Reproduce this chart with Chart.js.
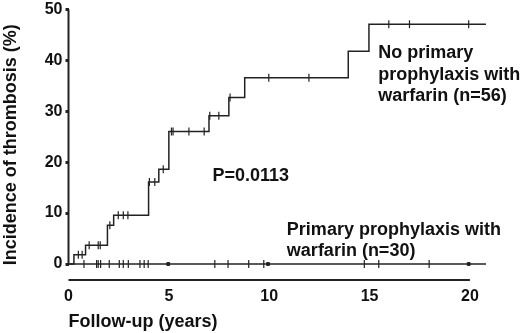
<!DOCTYPE html>
<html>
<head>
  <meta charset="UTF-8">
  <title>Incidence of thrombosis</title>
  <script src="https://cdn.jsdelivr.net/npm/chart.js"></script>
  <style>
    body { margin: 0; background: #fff; }
    #wrap { width: 520px; height: 333px; position: relative; }
  </style>
</head>
<body>
  <div id="wrap"><canvas id="grafica"></canvas></div>

  <script>
// step curve, no primary prophylaxis (n=56)
const noProphTimes = [0, 0.27, 0.85, 1.94, 2.25, 3.99, 4.5, 5.0, 7.0, 7.99, 8.78, 13.94, 14.97, 20.8];
const noProphPct   = [0, 1.8, 3.7, 7.6, 9.6, 16.1, 18.6, 26.0, 29.1, 32.7, 36.6, 41.8, 47.1, 47.1];
// censored patients on that curve
const noProphCensorT   = [0.49, 0.68, 1.03, 1.48, 1.58, 2.06, 2.48, 2.73, 2.96, 4.03, 4.3, 4.72, 5.13, 5.21, 6.0, 6.76, 7.04, 7.49, 8.05, 9.98, 11.98, 15.96, 16.99, 19.94];
const noProphCensorPct = [1.8, 1.8, 3.7, 3.7, 3.7, 7.6, 9.6, 9.6, 9.6, 16.1, 16.1, 18.6, 26, 26, 26, 26, 29.1, 29.1, 32.7, 36.6, 36.6, 47.1, 47.1, 47.1];

// primary prophylaxis with warfarin (n=30)
const prophTimes = [0, 20.8];
const prophPct   = [0, 0];
const prophCensorT = [0.77, 1.40, 1.48, 1.60, 2.03, 2.53, 2.73, 2.98, 3.56, 3.77, 3.97, 7.29, 7.95, 8.98, 9.73, 14.74, 15.46, 17.97];
const prophMarkT = [4.97, 9.94, 19.94];

const yTicks = [0, 10, 20, 30, 40, 50];
const xTicks = [0, 5, 10, 15, 20];

const FONT = "'Liberation Sans', Arial, sans-serif";
const INK = '#222';

function pts(xs, ys) {
  return xs.map((x, i) => ({ x: x, y: ys[i] }));
}

// axis lines + text labels
const extras = {
  id: 'extras',
  afterDraw(chart) {
    const c = chart.ctx, xs = chart.scales.x, ys = chart.scales.y;
    const a = chart.chartArea;
    c.save();
    c.strokeStyle = INK;
    c.lineWidth = 2;
    c.beginPath();
    c.moveTo(a.left, ys.getPixelForValue(50));
    c.lineTo(a.left, ys.getPixelForValue(0) + 1);
    c.stroke();
    c.beginPath();
    c.moveTo(xs.getPixelForValue(0), a.bottom);
    c.lineTo(xs.getPixelForValue(20), a.bottom);
    c.stroke();

    c.fillStyle = '#111';
    c.font = 'bold 18px ' + FONT;
    c.textBaseline = 'middle';
    c.textAlign = 'left';
    const put = (txt, x, y) => c.fillText(txt, xs.getPixelForValue(x), ys.getPixelForValue(y));
    put('No primary', 15.43, 41.5);
    put('prophylaxis with', 15.43, 37.2);
    put('warfarin (n=56)', 15.43, 32.9);
    put('P=0.0113', 7.17, 17.2);
    put('Primary prophylaxis with', 10.88, 6.7);
    put('warfarin (n=30)', 10.88, 2.6);
    c.restore();
  }
};

const ctx = document.getElementById('grafica').getContext('2d');
const chart = new Chart(ctx, {
  type: 'line',
  data: {
    datasets: [
      {
        data: pts(noProphTimes, noProphPct),
        stepped: true,
        borderColor: INK,
        borderWidth: 1.5,
        pointRadius: 0
      },
      {
        data: pts(noProphCensorT, noProphCensorPct),
        showLine: false,
        pointStyle: 'line',
        rotation: 90,
        pointRadius: 4,
        borderColor: INK,
        borderWidth: 1.2
      },
      {
        data: pts(prophTimes, prophPct),
        borderColor: INK,
        borderWidth: 1.5,
        pointRadius: 0
      },
      {
        data: prophCensorT.map(t => ({ x: t, y: 0 })),
        showLine: false,
        pointStyle: 'line',
        rotation: 90,
        pointRadius: 4,
        borderColor: INK,
        borderWidth: 1.2
      },
      {
        data: prophMarkT.map(t => ({ x: t, y: 0 })),
        showLine: false,
        pointStyle: 'rect',
        pointRadius: 2,
        backgroundColor: INK,
        borderColor: INK,
        borderWidth: 1
      }
    ]
  },
  options: {
    responsive: true,
    maintainAspectRatio: false,
    animation: false,
    layout: { padding: { top: 0, right: 20, left: 0, bottom: 0 } },
    plugins: { legend: { display: false }, tooltip: { enabled: false } },
    scales: {
      x: {
        type: 'linear',
        min: 0,
        max: 21.5,
        afterBuildTicks: s => { s.ticks = xTicks.map(v => ({ value: v })); },
        afterFit: s => { s.height = 53; },
        border: { display: false },
        grid: { display: false, drawTicks: false },
        ticks: { color: '#111', padding: 7, maxRotation: 0, font: { family: FONT, size: 16, weight: 'bold' } },
        title: {
          display: true,
          text: 'Follow-up (years)',
          align: 'start',
          color: '#111',
          padding: { top: 7, bottom: 0 },
          font: { family: FONT, size: 18, weight: 'bold' }
        }
      },
      y: {
        min: -3.14,
        max: 50,
        afterBuildTicks: s => { s.ticks = yTicks.map(v => ({ value: v })); },
        afterFit: s => { s.width = 68.5; },
        border: { display: false },
        grid: { drawOnChartArea: false, drawTicks: true, tickLength: 3, tickWidth: 3, tickColor: INK },
        ticks: { color: '#111', padding: 3, font: { family: FONT, size: 16, weight: 'bold', lineHeight: 0.8 } },
        title: {
          display: true,
          text: 'Incidence of thrombosis (%)',
          color: '#111',
          padding: 0,
          font: { family: FONT, size: 18, weight: 'bold' }
        }
      }
    }
  },
  plugins: [extras]
});
  </script>
</body>
</html>
